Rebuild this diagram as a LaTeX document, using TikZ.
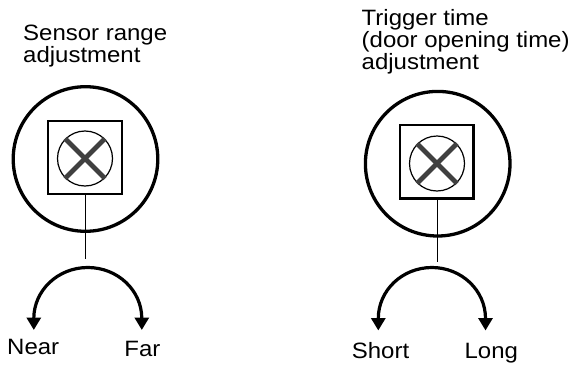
\documentclass[tikz,border=0pt]{standalone}
\usepackage{fontspec}
\setmainfont{Liberation Sans}[FakeStretch=1.08]
\usetikzlibrary{arrows.meta}
\tikzset{
  ring/.style={circle, draw, line width=3.3pt, minimum size=144.6pt, inner sep=0pt},
  box/.style={rectangle, draw, line width=2.2pt, minimum size=73.5pt, inner sep=0pt},
  knob/.style={circle, draw, line width=1.2pt, minimum size=55pt, inner sep=0pt},
  cross/.style={line width=4.8pt, draw=black!75},
  stem/.style={line width=1.4pt},
  turn/.style={line width=3.2pt, {Triangle[width=14pt,length=12.5pt]}-{Triangle[width=14pt,length=12.5pt]}},
  lbl/.style={anchor=base west, inner sep=0pt, font=\fontsize{22.2}{20.4}\selectfont}
}
\begin{document}
\begin{tikzpicture}[x=1pt,y=-1pt]
\useasboundingbox (0,0) rectangle (570,364);
% ---- left dial ----
\node[lbl] (t1) at (23,40.7) {\begin{tabular}[t]{@{}l@{}}Sensor range\\adjustment\end{tabular}};
\node[ring] (ring1) at (85.5,159) {};
\node[box] (sq1) at (85,157.5) {};
\node[knob] (kn1) at (85,158.5) {};
\draw[cross] ([shift={(-20,-20)}]kn1.center) -- ([shift={(20,20)}]kn1.center);
\draw[cross] ([shift={(-20,20)}]kn1.center) -- ([shift={(20,-20)}]kn1.center);
\coordinate (top1) at (85.5,259);
\draw[stem] (sq1.south -| top1) -- (top1);
\coordinate (aL1) at (33.8,330);
\coordinate (aR1) at (141.8,330);
\draw[turn] (aL1) -- ++(0,-11.5) arc[start angle=180, end angle=360, x radius=54, y radius=51] -- (aR1);
\node[lbl] (near) at (7,354) {Near};
\node[lbl] (far) at (124.2,356) {Far};
% ---- right dial ----
\node[lbl] (t2) at (361.5,25) {\begin{tabular}[t]{@{}l@{}}Trigger time\\(door opening time)\\adjustment\end{tabular}};
\node[ring] (ring2) at (437.7,163.7) {};
\node[box] (sq2) at (436.8,161.8) {};
\node[knob] (kn2) at (437,163.5) {};
\draw[cross] ([shift={(-20,-20)}]kn2.center) -- ([shift={(20,20)}]kn2.center);
\draw[cross] ([shift={(-20,20)}]kn2.center) -- ([shift={(20,-20)}]kn2.center);
\coordinate (top2) at (437.7,262);
\draw[stem] (sq2.south -| top2) -- (top2);
\coordinate (aL2) at (378.3,330.5);
\coordinate (aR2) at (485.5,330.5);
\draw[turn] (aL2) -- ++(0,-12) arc[start angle=180, end angle=360, x radius=53.6, y radius=51] -- (aR2);
\node[lbl] (short) at (351.7,358.3) {Short};
\node[lbl] (long) at (464.4,358) {Long};
\end{tikzpicture}
\end{document}
